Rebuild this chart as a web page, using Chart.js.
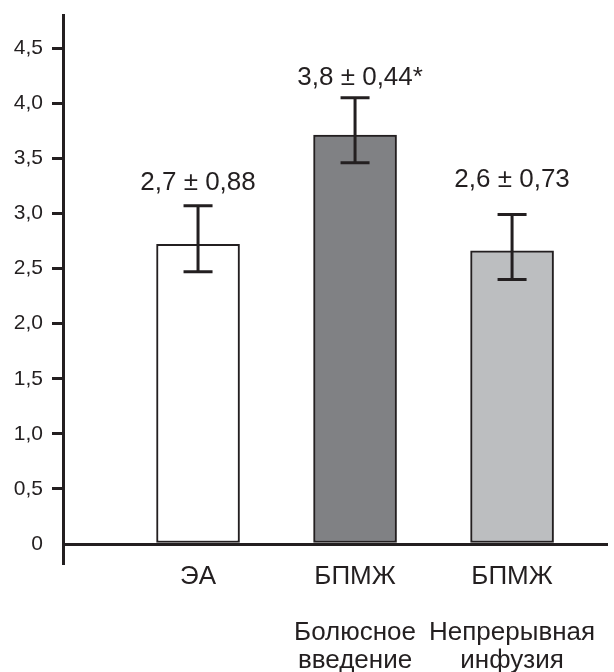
<!DOCTYPE html>
<html>
<head>
<meta charset="utf-8">
<script src="https://cdn.jsdelivr.net/npm/chart.js@4.4.1/dist/chart.umd.min.js"></script>
<style>
  body { margin: 0; background: #fff; }
  #wrap { width: 614px; height: 672px; }
</style>
</head>
<body>
<div id="wrap"><canvas id="myChart" width="614" height="672"></canvas></div>
<script>
// chart data
const categories = [
  ['ЭА'],
  ['БПМЖ', '', 'Болюсное', 'введение'],
  ['БПМЖ', '', 'Непрерывная', 'инфузия']
];
const values = [2.72, 3.71, 2.66];
const errUpper = [3.07, 4.05, 2.99];
const errLower = [2.47, 3.46, 2.40];
const valueLabels = ['2,7 ± 0,88', '3,8 ± 0,44*', '2,6 ± 0,73'];
const yTicks = [0, 0.5, 1, 1.5, 2, 2.5, 3, 3.5, 4, 4.5];
const barColors = ['#ffffff', '#808184', '#bcbec0'];

const ink = '#231f20';
const font = '"Liberation Sans", Arial, sans-serif';

// error bars + labels above them
const errorBars = {
  id: 'errorBars',
  afterDatasetsDraw(chart) {
    const c = chart.ctx;
    const y = chart.scales.y;
    const meta = chart.getDatasetMeta(0);
    const gap = [16, 13, 27];
    c.save();
    c.strokeStyle = ink;
    c.lineWidth = 3;
    meta.data.forEach((bar, i) => {
      const top = y.getPixelForValue(errUpper[i]);
      const bot = y.getPixelForValue(errLower[i]);
      c.beginPath();
      c.moveTo(bar.x, top); c.lineTo(bar.x, bot);
      c.moveTo(bar.x - 14.5, top); c.lineTo(bar.x + 14.5, top);
      c.moveTo(bar.x - 14.5, bot); c.lineTo(bar.x + 14.5, bot);
      c.stroke();
      // centre the text without the trailing star
      c.fillStyle = ink;
      c.font = '26px ' + font;
      c.textAlign = 'left';
      c.textBaseline = 'alphabetic';
      const w = c.measureText(valueLabels[i].replace('*', '')).width;
      c.fillText(valueLabels[i], bar.x - w / 2, top - gap[i]);
    });
    c.restore();
  }
};

const ctx = document.getElementById('myChart');

new Chart(ctx, {
  type: 'bar',
  data: {
    datasets: [{
      data: values.map((v, i) => ({ x: i, y: v })),
      backgroundColor: barColors,
      borderColor: ink,
      borderWidth: 2,
      borderSkipped: false,
      barThickness: 83
    }]
  },
  options: {
    responsive: false,
    animation: false,
    layout: { padding: { top: 15, right: 6, left: 0, bottom: 0 } },
    plugins: { legend: { display: false }, tooltip: { enabled: false } },
    scales: {
      x: {
        type: 'linear',
        offset: false,
        min: -0.86,
        max: 2.611,
        afterBuildTicks: s => { s.ticks = categories.map((c, i) => ({ value: i })); },
        afterFit: s => { s.height = 109; s.paddingLeft = 0; s.paddingRight = 0; },
        grid: { display: false, offset: false },
        border: { display: false },
        ticks: {
          padding: -8,
          color: ink,
          font: { family: font, size: 26, lineHeight: '28px' },
          maxRotation: 0,
          autoSkip: false,
          callback: v => categories[v]
        }
      },
      y: {
        min: -0.172,
        max: 4.8,
        afterBuildTicks: s => { s.ticks = yTicks.map(v => ({ value: v })); },
        afterFit: s => { s.width = 63; s.paddingTop = 0; s.paddingBottom = 0; },
        border: { display: true, color: ink, width: 3 },
        grid: {
          drawTicks: true,
          tickLength: 11,
          tickWidth: 3,
          lineWidth: 3,
          color: c => c.tick && c.tick.value === 0 ? ink : 'rgba(0,0,0,0)',
          tickColor: c => c.tick && c.tick.value > 0 ? ink : 'rgba(0,0,0,0)'
        },
        ticks: {
          padding: 9,
          color: ink,
          font: { family: font, size: 21 },
          callback: v => v === 0 ? '0' : v.toFixed(1).replace('.', ',')
        }
      }
    }
  },
  plugins: [errorBars]
});
</script>
</body>
</html>
